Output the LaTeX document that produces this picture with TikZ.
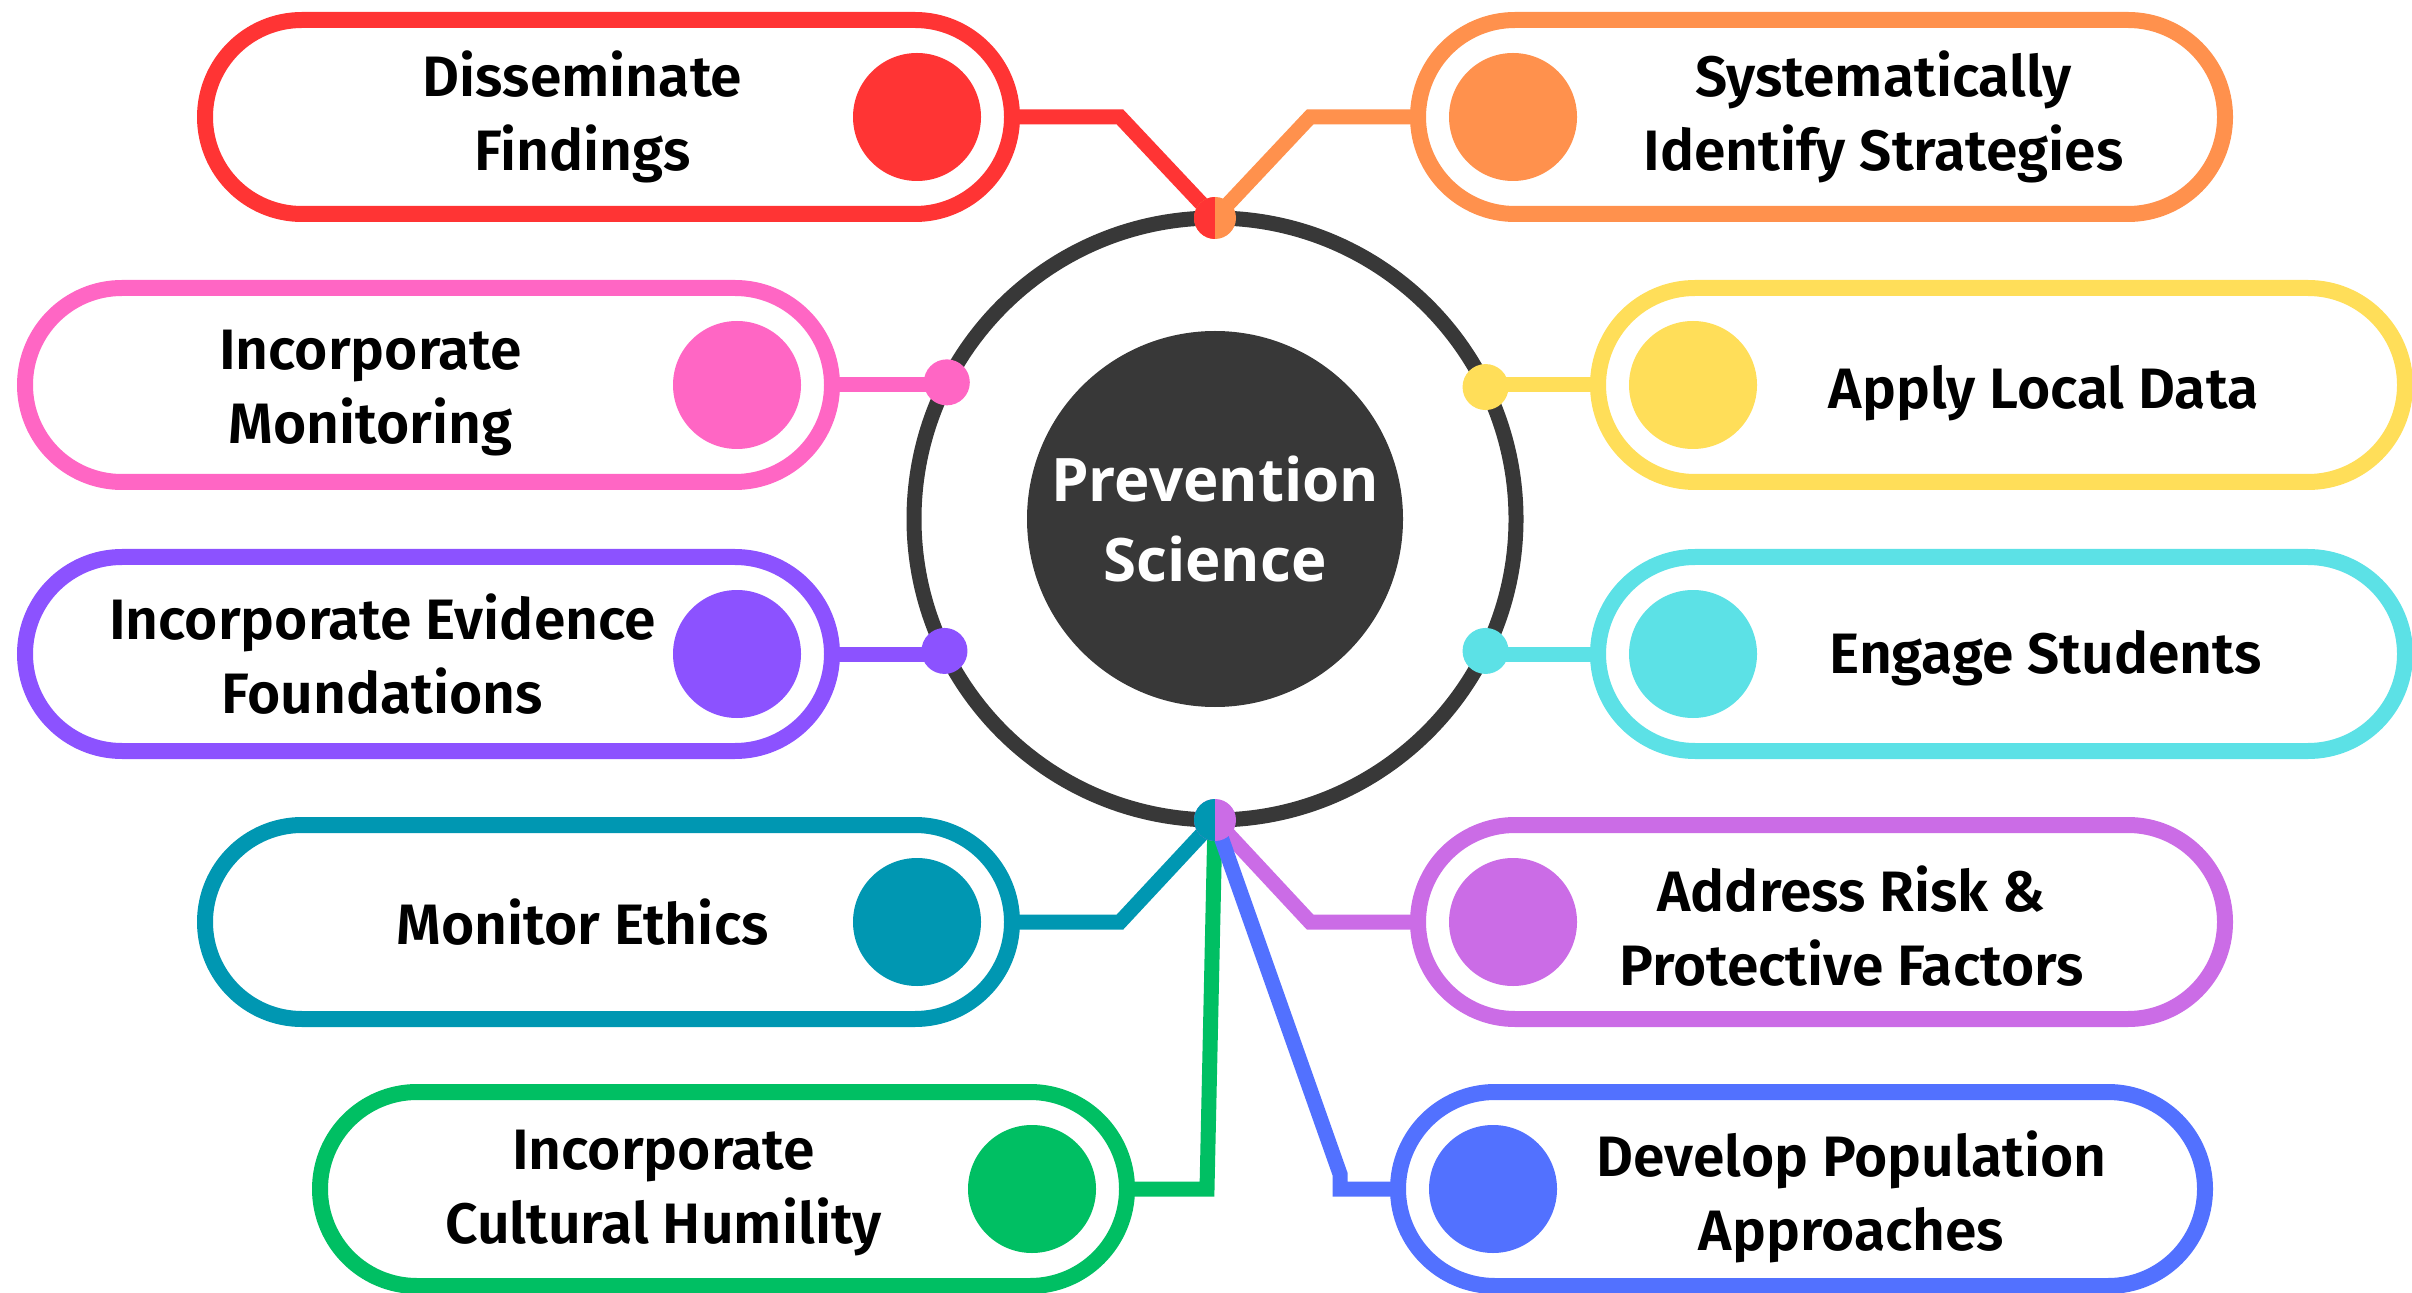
\documentclass[tikz,border=0pt]{standalone}
\usepackage{fontspec}
\setmainfont{Fira Sans}[BoldFont={Fira Sans SemiBold}]
\newfontfamily\hubfont{Open Sans}
\usepackage{tikz}
\usetikzlibrary{backgrounds,calc,positioning,shapes.misc}
\definecolor{psred}{HTML}{FF3434}
\definecolor{psorange}{HTML}{FF914D}
\definecolor{pspink}{HTML}{FF66C4}
\definecolor{psyellow}{HTML}{FFDE59}
\definecolor{pspurple}{HTML}{8C52FF}
\definecolor{pscyan}{HTML}{5CE1E6}
\definecolor{psteal}{HTML}{0097B2}
\definecolor{pslavender}{HTML}{CB6CE6}
\definecolor{psgreen}{HTML}{00BF63}
\definecolor{psblue}{HTML}{5271FF}
\definecolor{psdark}{HTML}{383838}
\tikzset{%
  pill/.style={%
    rounded rectangle,
    draw=#1,
    fill=white,
    line width=8pt,
    minimum width=403.5pt,
    minimum height=97pt,
    inner sep=0pt,
    outer sep=0pt
  },
  pilldot/.style={circle,fill=#1,minimum size=64pt,inner sep=0pt},
  pilltext/.style={%
    align=center,
    text=black,
    font=\bfseries\fontsize{28.5}{37}\selectfont
  },
  ringdot/.style={circle,fill=#1,minimum size=23pt,inner sep=0pt},
  joindot/.style 2 args={%
    circle,
    fill=#2,
    minimum size=21pt,
    inner sep=0pt,
    path picture={\fill[#1] (path picture bounding box.south west) rectangle (path picture bounding box.north);}
  },
  link/.style={draw=#1,line width=7.5pt}
}

\begin{document}
\begin{tikzpicture}[x=0.5pt,y=0.5pt]
    \useasboundingbox (0,0) rectangle (2412,1292);

    % centre
    \node[circle,draw=psdark,line width=7.5pt,minimum size=301pt,outer sep=0pt] (ring) at (1215,773) {};
    \node[circle,fill=psdark,minimum size=188pt,inner sep=0pt,text=white,align=center,
          font=\hubfont\bfseries\fontsize{30}{40}\selectfont] (hub) at (ring.center) {Prevention\\Science};

    % left column
    \node[pill=psred] (dissem) at (608.5,1175) {};
    \node[pill=pspink] (monit) at (428.5,907) {};
    \node[pill=pspurple] (evid) at (428.5,638) {};
    \node[pill=psteal] (ethics) at (608.5,370) {};
    \node[pill=psgreen] (cultural) at (723.5,103) {};

    % right column
    \node[pill=psorange] (systm) at (1821.5,1175) {};
    \node[pill=psyellow] (localdata) at (2001.5,907) {};
    \node[pill=pscyan] (engage) at (2001.5,638) {};
    \node[pill=pslavender] (riskfac) at (1821.5,370) {};
    \node[pill=psblue] (popul) at (1801.5,103) {};

    \node[pilldot=psred] (dissem-dot) at ([xshift=-47.5pt]dissem.east) {};
    \node[pilldot=pspink] (monit-dot) at ([xshift=-47.5pt]monit.east) {};
    \node[pilldot=pspurple] (evid-dot) at ([xshift=-47.5pt]evid.east) {};
    \node[pilldot=psteal] (ethics-dot) at ([xshift=-47.5pt]ethics.east) {};
    \node[pilldot=psgreen] (cultural-dot) at ([xshift=-47.5pt]cultural.east) {};
    \node[pilldot=psorange] (systm-dot) at ([xshift=47.5pt]systm.west) {};
    \node[pilldot=psyellow] (localdata-dot) at ([xshift=47.5pt]localdata.west) {};
    \node[pilldot=pscyan] (engage-dot) at ([xshift=47.5pt]engage.west) {};
    \node[pilldot=pslavender] (riskfac-dot) at ([xshift=47.5pt]riskfac.west) {};
    \node[pilldot=psblue] (popul-dot) at ([xshift=47.5pt]popul.west) {};

    \node[pilltext] (dissem-txt) at ([xshift=-13pt]dissem.center) {Disseminate\\Findings};
    \node[pilltext] (monit-txt) at ([xshift=-29pt,yshift=-4pt]monit.center) {Incorporate\\Monitoring};
    \node[pilltext] (evid-txt) at ([xshift=-23pt]evid.center) {Incorporate Evidence\\Foundations};
    \node[pilltext] (ethics-txt) at ([xshift=-13pt]ethics.center) {Monitor Ethics};
    \node[pilltext] (cultural-txt) at ([xshift=-30pt,yshift=-2pt]cultural.center) {Incorporate\\Cultural Humility};
    \node[pilltext] (systm-txt) at ([xshift=31pt]systm.center) {Systematically\\Identify Strategies};
    \node[pilltext] (localdata-txt) at ([xshift=21pt,yshift=-4pt]localdata.center) {Apply Local Data};
    \node[pilltext] (engage-txt) at ([xshift=22pt,yshift=-2pt]engage.center) {Engage Students};
    \node[pilltext] (riskfac-txt) at ([xshift=15pt,yshift=-2pt]riskfac.center) {Address Risk \&\\Protective Factors};
    \node[pilltext] (popul-txt) at ([xshift=25pt,yshift=-4pt]popul.center) {Develop Population\\Approaches};

    % dots on the ring
    \node[ringdot=pspink] (monit-end) at (ring.153.6) {};
    \node[ringdot=pspurple] (evid-end) at (ring.206.6) {};
    \node[ringdot=psyellow] (localdata-end) at (ring.26.4) {};
    \node[ringdot=pscyan] (engage-end) at (ring.-26.6) {};
    \node[joindot={psred}{psorange}] (topjoin) at (ring.north) {};
    \node[joindot={psteal}{pslavender}] (botjoin) at (ring.south) {};

    \begin{scope}[on background layer]
      \draw[link=psred] (dissem.east) -- ++(108,0) -- (topjoin.center);
      \draw[link=psorange] (systm.west) -- ++(-108,0) -- (topjoin.center);
      \draw[link=pspink] (monit.east) -- (monit.east -| monit-end);
      \draw[link=pspurple] (evid.east) -- (evid.east -| evid-end);
      \draw[link=psyellow] (localdata.west) -- (localdata.west -| localdata-end);
      \draw[link=pscyan] (engage.west) -- (engage.west -| engage-end);
      \draw[link=psteal] (ethics.east) -- ++(108,0) -- (botjoin.center);
      \draw[link=pslavender] (riskfac.west) -- ++(-108,0) -- (botjoin.center);
      \draw[link=psgreen] (cultural.east) -- ++(80,0) -- (botjoin.center);
      \draw[link=psblue] (popul.west) -- ++(-58,0) -- ++(0,15) -- (botjoin.center);
    \end{scope}
\end{tikzpicture}
\end{document}
